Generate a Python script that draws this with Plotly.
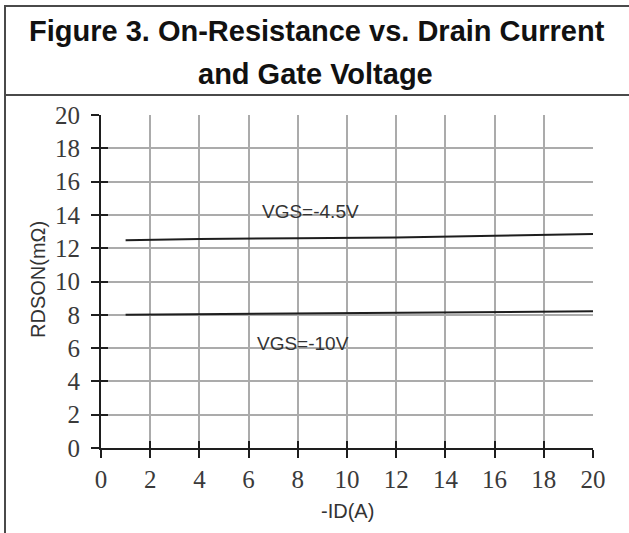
import plotly.graph_objects as go

# Data
id_a = [1, 4, 8, 12, 16, 20]
rds_vgs45 = [12.47, 12.55, 12.6, 12.65, 12.75, 12.85]
rds_vgs10 = [8.0, 8.03, 8.08, 8.13, 8.18, 8.21]
tick_vals = [0, 2, 4, 6, 8, 10, 12, 14, 16, 18, 20]
label_45 = "VGS=-4.5V"
label_10 = "VGS=-10V"

W, H = 629, 533
L, R, T, B = 101, 36, 115, 85
pw, ph = W - L - R, H - T - B

def px(x):
    return (x - L) / pw

def py(y):
    return (H - B - y) / ph

fig = go.Figure()
fig.add_trace(go.Scatter(x=id_a, y=rds_vgs45, mode="lines",
                         line=dict(color="#1e1e1e", width=2), showlegend=False,
                         hoverinfo="skip"))
fig.add_trace(go.Scatter(x=id_a, y=rds_vgs10, mode="lines", xaxis="x2", yaxis="y2",
                         line=dict(color="#1e1e1e", width=2), showlegend=False,
                         hoverinfo="skip"))

tickfont = dict(family="Liberation Serif", size=25, color="#3a3a3a")
common = dict(range=[0, 20], tickvals=tick_vals, showgrid=True, gridcolor="#ababab",
              gridwidth=2, zeroline=False, showline=True, linecolor="#1e1e1e",
              linewidth=2, ticks="outside", ticklen=8, tickwidth=2, tickcolor="#1e1e1e",
              tickfont=tickfont, fixedrange=True)

fig.update_layout(
    width=W, height=H,
    margin=dict(l=L, r=R, t=T, b=B),
    paper_bgcolor="white", plot_bgcolor="white",
    xaxis=dict(**common, ticklabelstandoff=0),
    yaxis=dict(**common, ticklabelstandoff=6),
    xaxis2=dict(range=[0, 20], tickvals=tick_vals, overlaying="x", anchor="y2",
                showgrid=False, zeroline=False, showline=False, ticks="inside",
                ticklen=7, tickwidth=2, tickcolor="#1e1e1e", showticklabels=False),
    yaxis2=dict(range=[0, 20], tickvals=tick_vals, overlaying="y", anchor="x2",
                showgrid=False, zeroline=False, showline=False, ticks="inside",
                ticklen=7, tickwidth=2, tickcolor="#1e1e1e", showticklabels=False),
    showlegend=False,
)

# Frame boxes
fig.add_shape(type="rect", xref="paper", yref="paper",
              x0=px(5), x1=px(645), y0=py(545), y1=py(6),
              line=dict(color="#4a4a4a", width=2), layer="below")
fig.add_shape(type="line", xref="paper", yref="paper",
              x0=px(5), x1=px(645), y0=py(95), y1=py(95),
              line=dict(color="#4a4a4a", width=2))

titlefont = dict(family="Liberation Sans", size=29, color="#111111")
fig.add_annotation(text="<b>Figure 3. On-Resistance vs. Drain Current</b>",
                   xref="paper", yref="paper", x=px(317), y=py(31),
                   xanchor="center", yanchor="middle", showarrow=False, font=titlefont)
fig.add_annotation(text="<b>and Gate Voltage</b>",
                   xref="paper", yref="paper", x=px(315), y=py(74),
                   xanchor="center", yanchor="middle", showarrow=False, font=titlefont)

fig.add_annotation(text="RDSON(mΩ)", xref="paper", yref="paper", x=px(38), y=py(280),
                   textangle=-90, xanchor="center", yanchor="middle", showarrow=False,
                   font=dict(family="Liberation Sans", size=20, color="#333333"))
fig.add_annotation(text="-ID(A)", xref="paper", yref="paper", x=px(347), y=py(511),
                   xanchor="center", yanchor="middle", showarrow=False,
                   font=dict(family="Liberation Sans", size=20, color="#333333"))

lblfont = dict(family="Liberation Sans", size=19, color="#333333")
fig.add_annotation(text=label_45, x=8.5, y=14.2, xref="x", yref="y", showarrow=False,
                   xanchor="center", yanchor="middle", font=lblfont)
fig.add_annotation(text=label_10, x=8.2, y=6.3, xref="x", yref="y", showarrow=False,
                   xanchor="center", yanchor="middle", font=lblfont)

fig.write_html("out.html", post_script="document.body.style.margin='0';",
               config={"displayModeBar": False})
